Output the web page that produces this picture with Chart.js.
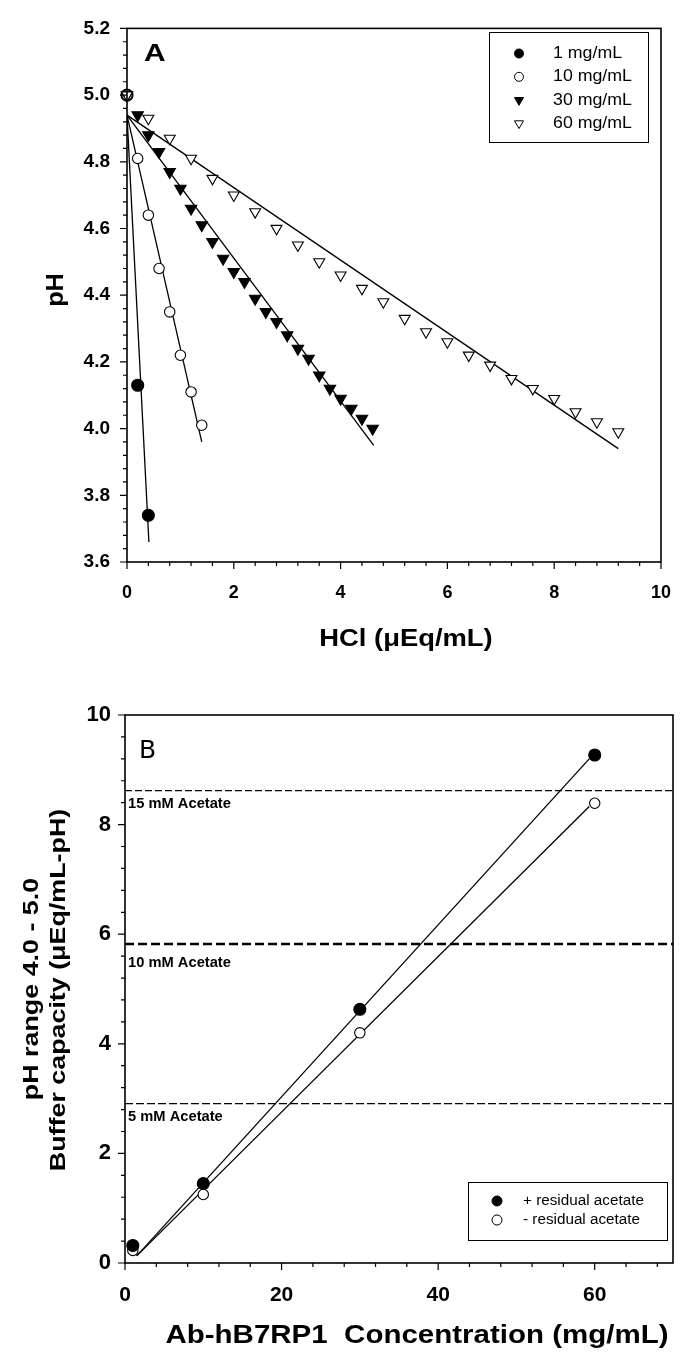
<!DOCTYPE html>
<html>
<head>
<meta charset="utf-8">
<title>Buffer capacity of Ab-hB7RP1</title>
<script src="https://cdn.jsdelivr.net/npm/chart.js"></script>
<style>
  html, body { margin: 0; padding: 0; background: #fff; }
  canvas { display: block; }
</style>
</head>
<body>
<canvas id="chartA" width="691" height="660"></canvas>
<canvas id="chartB" width="691" height="693"></canvas>
<script>
// ---- Panel A: pH vs added HCl ----
const seriesA = ['1 mg/mL', '10 mg/mL', '30 mg/mL', '60 mg/mL'];
const hcl1mg  = [0, 0.2, 0.4];
const pH1mg   = [5.00, 4.13, 3.74];
const hcl10mg = [0, 0.2, 0.4, 0.6, 0.8, 1.0, 1.2, 1.4];
const pH10mg  = [5.00, 4.81, 4.64, 4.48, 4.35, 4.22, 4.11, 4.01];
const hcl30mg = [0, 0.2, 0.4, 0.6, 0.8, 1.0, 1.2, 1.4, 1.6, 1.8, 2.0, 2.2, 2.4, 2.6, 2.8, 3.0, 3.2, 3.4, 3.6, 3.8, 4.0, 4.2, 4.4, 4.6];
const pH30mg  = [5.00, 4.94, 4.88, 4.83, 4.77, 4.72, 4.66, 4.61, 4.56, 4.51, 4.47, 4.44, 4.39, 4.35, 4.32, 4.28, 4.24, 4.21, 4.16, 4.12, 4.09, 4.06, 4.03, 4.00];
const hcl60mg = [0, 0.4, 0.8, 1.2, 1.6, 2.0, 2.4, 2.8, 3.2, 3.6, 4.0, 4.4, 4.8, 5.2, 5.6, 6.0, 6.4, 6.8, 7.2, 7.6, 8.0, 8.4, 8.8, 9.2];
const pH60mg  = [5.00, 4.93, 4.87, 4.81, 4.75, 4.70, 4.65, 4.60, 4.55, 4.50, 4.46, 4.42, 4.38, 4.33, 4.29, 4.26, 4.22, 4.19, 4.15, 4.12, 4.09, 4.05, 4.02, 3.99];
// linear fits, all starting at HCl = 0
const fitStartPh = 4.94;
const fitEndHcl  = [0.41, 1.40, 4.62, 9.20];
const fitEndPh   = [3.66, 3.96, 3.95, 3.94];

// ---- Panel B: buffer capacity vs concentration ----
const seriesB     = ['+ residual acetate', '- residual acetate'];
const conc        = [1, 10, 30, 60];
const capWith     = [0.32, 1.45, 4.63, 9.27];
const capWithout  = [0.23, 1.25, 4.20, 8.39];
const fitConc     = [1.5, 59.3];
const fitWith     = [0.13, 9.20];
const fitWithout  = [0.13, 8.33];
const acetateLevels = [8.62, 5.82, 2.91];
const acetateLabels = ['15 mM Acetate', '10 mM Acetate', '5 mM Acetate'];

const FONT = "'Liberation Sans', Arial, sans-serif";

function pts(xs, ys) {
    return xs.map((x, i) => ({ x: x, y: ys[i] }));
}

// canvas text with optional horizontal stretch / rotation
function drawText(ctx, text, x, y, o) {
    ctx.save();
    ctx.translate(x, y);
    if (o.angle) ctx.rotate(o.angle);
    ctx.scale(o.sx || 1, 1);
    ctx.font = o.font;
    ctx.textAlign = o.align || 'left';
    ctx.textBaseline = o.baseline || 'alphabetic';
    ctx.fillStyle = '#000';
    ctx.fillText(text, 0, 0);
    ctx.restore();
}

function drawMarker(ctx, style, x, y, r, filled) {
    ctx.beginPath();
    if (style === 'circle') {
        ctx.arc(x, y, r, 0, Math.PI * 2);
    } else {
        // downward triangle
        for (let k = 0; k < 3; k++) {
            const a = Math.PI + k * 2 * Math.PI / 3;
            const px = x + Math.sin(a) * r, py = y - Math.cos(a) * r;
            if (k) ctx.lineTo(px, py); else ctx.moveTo(px, py);
        }
        ctx.closePath();
    }
    ctx.fillStyle = filled ? '#000' : '#fff';
    ctx.fill();
    ctx.lineWidth = 1;
    ctx.strokeStyle = '#000';
    ctx.stroke();
}

function tickMarks(ctx, scale, minor, major, seg) {
    const n = Math.floor((scale.max - scale.min) / minor + 1e-6);
    const every = Math.round(major / minor);
    ctx.beginPath();
    for (let i = 0; i <= n; i++) {
        seg(scale.getPixelForValue(scale.min + i * minor), i % every === 0 ? 7 : 4);
    }
    ctx.stroke();
}

// frame around plot + outward major/minor ticks
const paperAxes = {
    id: 'paperAxes',
    afterDraw(chart, args, o) {
        const ctx = chart.ctx, a = chart.chartArea;
        ctx.save();
        ctx.strokeStyle = '#000';
        ctx.lineWidth = 1.6;
        ctx.strokeRect(a.left, a.top, a.right - a.left, a.bottom - a.top);
        ctx.lineWidth = 1.2;
        tickMarks(ctx, chart.scales.x, o.xMinor, o.xMajor, (p, len) => {
            ctx.moveTo(p, a.bottom); ctx.lineTo(p, a.bottom + len);
        });
        tickMarks(ctx, chart.scales.y, o.yMinor, o.yMajor, (p, len) => {
            ctx.moveTo(a.left - len, p); ctx.lineTo(a.left, p);
        });
        ctx.restore();
    }
};

function tickFont(size) {
    return { family: FONT, size: size, weight: 'bold' };
}

function markerSet(label, xs, ys, style, filled, r, order) {
    return {
        label: label,
        data: pts(xs, ys),
        pointStyle: style === 'circle' ? 'circle' : 'triangle',
        rotation: style === 'circle' ? 0 : 180,
        pointRadius: r,
        pointBorderWidth: 1.1,
        pointBackgroundColor: filled ? '#000' : '#fff',
        pointBorderColor: '#000',
        showLine: false,
        clip: false,
        order: order
    };
}

function fitLine(xs, ys, width, dash) {
    return {
        data: pts(xs, ys),
        showLine: true,
        borderColor: '#000',
        borderWidth: width,
        borderDash: dash || [],
        pointRadius: 0,
        fill: false,
        order: 10
    };
}

// ---------------- Panel A ----------------
const stylesA = [['circle', true, 6], ['circle', false, 5.2], ['triangle', true, 6.6], ['triangle', false, 6.3]];
const xsA = [hcl1mg, hcl10mg, hcl30mg, hcl60mg];
const ysA = [pH1mg, pH10mg, pH30mg, pH60mg];

const datasetsA = [];
seriesA.forEach((name, i) => {
    // later series sit on top (open symbols cover the shared pH 5.0 start point)
    datasetsA.push(markerSet(name, xsA[i], ysA[i], stylesA[i][0], stylesA[i][1], stylesA[i][2], 4 - i));
});
seriesA.forEach((name, i) => {
    datasetsA.push(fitLine([0, fitEndHcl[i]], [fitStartPh, fitEndPh[i]], 1.3));
});

const textA = {
    id: 'textA',
    afterDraw(chart) {
        const ctx = chart.ctx;
        drawText(ctx, 'A', 144, 61, { font: 'bold 23px ' + FONT, sx: 1.3 });
        drawText(ctx, 'pH', 57, 290, { font: 'bold 23px ' + FONT, sx: 1.1, angle: -Math.PI / 2, align: 'center', baseline: 'middle' });
        drawText(ctx, 'HCl (\u03bcEq/mL)', 406, 646, { font: 'bold 23px ' + FONT, sx: 1.19, align: 'center' });

        // legend box
        ctx.save();
        ctx.strokeStyle = '#000';
        ctx.lineWidth = 1;
        ctx.strokeRect(489.5, 32.5, 159, 110);
        seriesA.forEach((name, i) => {
            const y = 53.5 + i * 23.3;
            drawMarker(ctx, stylesA[i][0], 519, y, stylesA[i][0] === 'circle' ? 4.5 : 5.2, stylesA[i][1]);
            drawText(ctx, name, 553, y, { font: '16px ' + FONT, sx: 1.11, baseline: 'middle' });
        });
        ctx.restore();
    }
};

new Chart(document.getElementById('chartA'), {
    type: 'scatter',
    data: { datasets: datasetsA },
    options: {
        responsive: false,
        animation: false,
        events: [],
        layout: { padding: { top: 17, right: 15, left: 0, bottom: 0 } },
        plugins: {
            legend: { display: false },
            tooltip: { enabled: false },
            paperAxes: { xMinor: 0.4, xMajor: 2, yMinor: 0.04, yMajor: 0.2 }
        },
        scales: {
            x: {
                type: 'linear', min: 0, max: 10,
                border: { display: false },
                grid: { display: false, drawTicks: false },
                ticks: { stepSize: 2, padding: 20, color: '#000', font: tickFont(18), maxRotation: 0 },
                afterFit: s => { s.height = 98; }
            },
            y: {
                type: 'linear', min: 3.6, max: 5.2,
                border: { display: false },
                grid: { display: false, drawTicks: false },
                ticks: { stepSize: 0.2, padding: 17, color: '#000', font: tickFont(19), callback: v => v.toFixed(1) },
                afterFit: s => { s.width = 127; }
            }
        }
    },
    plugins: [paperAxes, textA]
});

// ---------------- Panel B ----------------
const acetateWidths = [1.2, 2.4, 1.2];
const acetateDash = [[7, 3], [9, 4], [8, 3]];

const datasetsB = [
    markerSet(seriesB[0], conc, capWith, 'circle', true, 6, 1),
    markerSet(seriesB[1], conc, capWithout, 'circle', false, 5.2, 2),
    fitLine(fitConc, fitWith, 1.3),
    fitLine(fitConc, fitWithout, 1.3)
];
acetateLevels.forEach((lvl, i) => {
    datasetsB.push(fitLine([0, 70], [lvl, lvl], acetateWidths[i], acetateDash[i]));
});

const textB = {
    id: 'textB',
    afterDraw(chart) {
        const ctx = chart.ctx, a = chart.chartArea, ys = chart.scales.y;
        drawText(ctx, 'B', 139, 98, { font: "25px 'DejaVu Sans', sans-serif" });
        acetateLevels.forEach((lvl, i) => {
            const off = acetateWidths[i] > 2 ? 19 : 14;
            drawText(ctx, acetateLabels[i], a.left + 3, ys.getPixelForValue(lvl) + off,
                { font: 'bold 14px ' + FONT, sx: 1.05, baseline: 'middle' });
        });
        drawText(ctx, 'pH range 4.0 - 5.0', 32, 329, { font: 'bold 22px ' + FONT, sx: 1.22, angle: -Math.PI / 2, align: 'center', baseline: 'middle' });
        drawText(ctx, 'Buffer capacity (\u03bcEq/mL-pH)', 59, 330, { font: 'bold 22px ' + FONT, sx: 1.22, angle: -Math.PI / 2, align: 'center', baseline: 'middle' });
        drawText(ctx, 'Ab-hB7RP1  Concentration (mg/mL)', 417, 683, { font: 'bold 25px ' + FONT, sx: 1.18, align: 'center' });

        // legend box
        ctx.save();
        ctx.strokeStyle = '#000';
        ctx.lineWidth = 1;
        ctx.strokeRect(468.5, 522.5, 199, 58);
        seriesB.forEach((name, i) => {
            const y = 541 + i * 19;
            drawMarker(ctx, 'circle', 497, y, 5, i === 0);
            drawText(ctx, name, 523, y, { font: '14px ' + FONT, sx: 1.09, baseline: 'middle' });
        });
        ctx.restore();
    }
};

new Chart(document.getElementById('chartB'), {
    type: 'scatter',
    data: { datasets: datasetsB },
    options: {
        responsive: false,
        animation: false,
        events: [],
        layout: { padding: { top: 55, right: 18, left: 0, bottom: 0 } },
        plugins: {
            legend: { display: false },
            tooltip: { enabled: false },
            paperAxes: { xMinor: 4, xMajor: 20, yMinor: 0.4, yMajor: 2 }
        },
        scales: {
            x: {
                type: 'linear', min: 0, max: 70,
                border: { display: false },
                grid: { display: false, drawTicks: false },
                ticks: { stepSize: 20, padding: 20, color: '#000', font: tickFont(21), maxRotation: 0 },
                afterBuildTicks: s => { s.ticks = s.ticks.filter(t => t.value % 20 === 0); },
                afterFit: s => { s.height = 90; }
            },
            y: {
                type: 'linear', min: 0, max: 10,
                border: { display: false },
                grid: { display: false, drawTicks: false },
                ticks: { stepSize: 2, padding: 14, color: '#000', font: tickFont(22) },
                afterFit: s => { s.width = 125; }
            }
        }
    },
    plugins: [paperAxes, textB]
});
</script>
</body>
</html>
